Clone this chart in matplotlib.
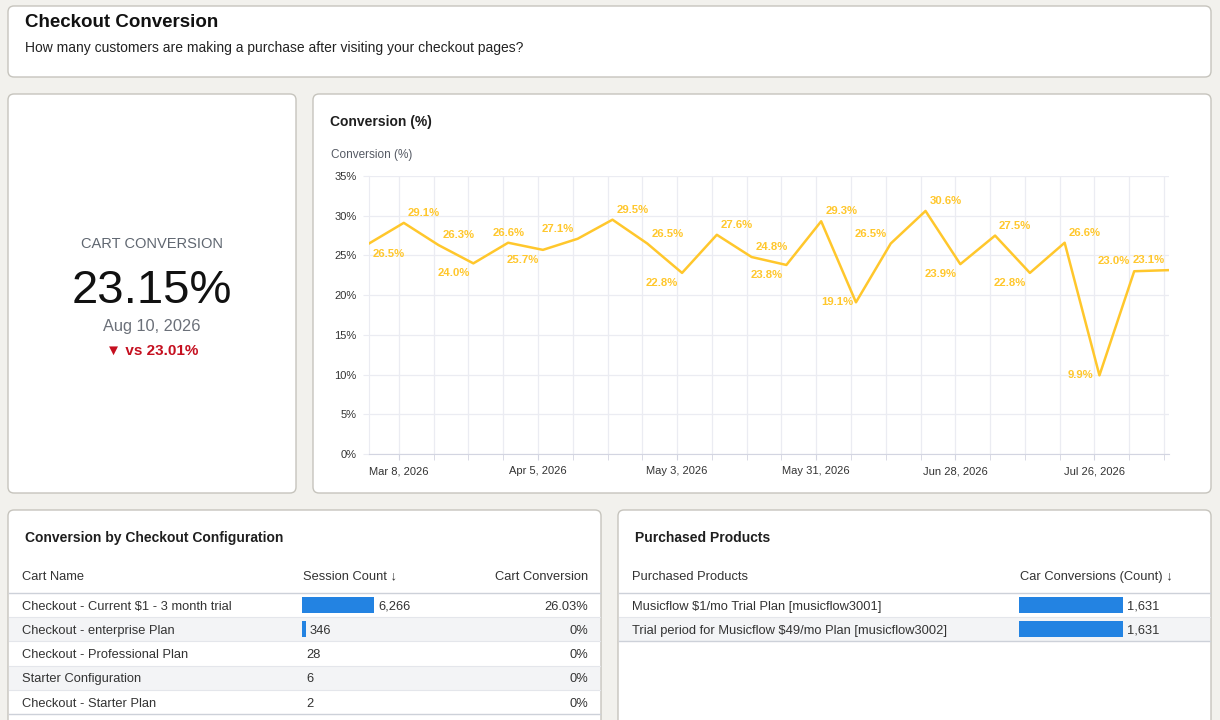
import datetime as dt
import matplotlib
matplotlib.use("Agg")
import matplotlib.pyplot as plt
import matplotlib.dates as mdates
from matplotlib.patches import FancyBboxPatch, Rectangle
from matplotlib.ticker import MultipleLocator, FuncFormatter

plt.rcParams["font.family"] = ["Liberation Sans", "DejaVu Sans"]

# ---- data ----
first_week = dt.date(2026, 3, 2)
conversion = [26.5, 29.1, 26.3, 24.0, 26.6, 25.7, 27.1, 29.5, 26.5, 22.8, 27.6, 24.8,
              23.8, 29.3, 19.1, 26.5, 30.6, 23.9, 27.5, 22.8, 26.6, 9.9, 23.01, 23.15]
weeks = [first_week + dt.timedelta(weeks=i) for i in range(len(conversion))]

kpi_title = "CART CONVERSION"
kpi_compare = "\u25bc vs 23.01%"

cart_names = ["Checkout - Current $1 - 3 month trial", "Checkout - enterprise Plan",
              "Checkout - Professional Plan", "Starter Configuration",
              "Checkout - Starter Plan"]
session_counts = [6266, 346, 28, 6, 2]
cart_conversion = [26.03, 0, 0, 0, 0]

products = ["Musicflow $1/mo Trial Plan [musicflow3001]",
            "Trial period for Musicflow $49/mo Plan [musicflow3002]"]
product_conversions = [1631, 1631]

# label placement (style only): horizontal side, vertical side
lab_h = [1, 1, 1, -1, 0, -1, -1, 1, 1, -1, 1, 1, -1, 1, -1, -1, 1, -1, 1, -1, 1, -1, -1, -1]
lab_v = [-1, 1, 1, -1, 1, -1, 1, 1, 1, -1, 1, 1, -1, 1, 0, 1, 1, -1, 1, -1, 1, 0, 1, 1]

W, H = 1220, 720
BG = "#f2f1ed"
CARD_EDGE = "#c6c4bd"
YELLOW = "#ffc72c"
BLUE = "#2383e2"
TXT = "#1f1f1f"

fig = plt.figure(figsize=(W / 100, H / 100), dpi=100, facecolor=BG)
bg = fig.add_axes([0, 0, 1, 1], zorder=0)
bg.set_xlim(0, W)
bg.set_ylim(H, 0)
bg.axis("off")


def px_axes(x0, y0, x1, y1):
    a = fig.add_axes([x0 / W, 1 - y1 / H, (x1 - x0) / W, (y1 - y0) / H], zorder=2)
    a.set_facecolor("none")
    return a


def card(x, y, w, h):
    bg.add_patch(FancyBboxPatch((x, y), w, h, boxstyle="round,pad=0,rounding_size=6",
                                fc="white", ec=CARD_EDGE, lw=1))


def txt(x, y, s, size, **kw):
    # y is the visual middle of the capitals; put the baseline below it
    bg.text(x, y + 0.36 * size / 0.72, s, fontsize=size, va="baseline", **kw)


card(8, 6, 1203, 71)
card(8, 94, 288, 399)
card(313, 94, 898, 399)
card(8, 510, 593, 240)
card(618, 510, 593, 240)

# header
txt(25, 20, "Checkout Conversion", 13.5, fontweight="bold", color="#111")
txt(25, 47, "How many customers are making a purchase after visiting your checkout pages?",
    10, color="#222")

# KPI card
txt(152, 243, kpi_title, 10.5, color="#5f6670", ha="center")
txt(152, 286, f"{conversion[-1]:.2f}%", 34, color="#111", ha="center")
txt(152, 325, f"{weeks[-1]:%b} {weeks[-1].day}, {weeks[-1].year}", 11.8,
    color="#6b7079", ha="center")
txt(152, 349, kpi_compare, 11, fontweight="bold", color="#c50f1f", ha="center")

# line chart
txt(330, 121, "Conversion (%)", 10, fontweight="bold", color=TXT)
txt(331, 154, "Conversion (%)", 8.5, color="#555a64")

ax = px_axes(369, 176, 1169, 454)
ax.plot(weeks, conversion, color=YELLOW, lw=1.8, zorder=3)
ax.set_xlim(weeks[0], weeks[-1])
ax.set_ylim(0, 35)
ax.yaxis.set_major_locator(MultipleLocator(5))
ax.yaxis.set_major_formatter(FuncFormatter(lambda v, p: f"{v:.0f}%"))

sundays = [dt.date(2026, 3, 8) + dt.timedelta(weeks=k) for k in range(23)]
major = sundays[::4]
ax.set_xticks([mdates.date2num(d) for d in major])
ax.set_xticklabels([f"{d:%b} {d.day}, {d.year}" for d in major])
ax.set_xticks([mdates.date2num(d) for d in sundays], minor=True)

grid_c = "#ebecf2"
ax.grid(axis="x", which="both", color=grid_c, lw=0.9, zorder=0)
ax.grid(axis="y", which="major", color=grid_c, lw=0.9, zorder=0)
ax.set_axisbelow(True)
for s in ("top", "right"):
    ax.spines[s].set_visible(False)
ax.spines["left"].set_color(grid_c)
ax.spines["bottom"].set_color("#d3d5e1")
ax.tick_params(axis="x", which="both", length=4, color="#d3d5e1", labelsize=8,
               labelcolor="#333", pad=5)
ax.tick_params(axis="y", length=4, color=grid_c, labelsize=8, labelcolor="#333", pad=5)

for i, v in enumerate(conversion):
    dx = lab_h[i] * (19 if lab_v[i] == 0 else 20)
    dy = lab_v[i] * 10
    ax.annotate(f"{v:.1f}%", (mdates.date2num(weeks[i]), v), xytext=(dx, dy),
                textcoords="offset pixels", ha="center", va="center", fontsize=8.2,
                fontweight="bold", color=YELLOW, annotation_clip=False, zorder=4)

# tables
ROW_TOP = 593
ROW_H = 24.2
CELL = 9.3


def table_frame(x0, x1, nrows):
    for i in range(nrows):
        top = ROW_TOP + i * ROW_H
        if i % 2 == 1:
            bg.add_patch(Rectangle((x0, top), x1 - x0, ROW_H, fc="#f3f4f6", ec="none"))
        if i < nrows - 1:
            bg.plot([x0, x1], [top + ROW_H] * 2, color="#e4e6eb", lw=0.8)
    bg.plot([x0, x1], [ROW_TOP, ROW_TOP], color="#cdd1d9", lw=1)
    bg.plot([x0, x1], [ROW_TOP + nrows * ROW_H] * 2, color="#cdd1d9", lw=1)


# left table
txt(25, 537, "Conversion by Checkout Configuration", 10, fontweight="bold", color=TXT)
txt(22, 575, "Cart Name", CELL, color="#333")
txt(303, 575, "Session Count \u2193", CELL, color="#333")
txt(588, 575, "Cart Conversion", CELL, color="#333", ha="right")
table_frame(9, 600, len(cart_names))
for i, name in enumerate(cart_names):
    yc = ROW_TOP + (i + 0.5) * ROW_H
    txt(22, yc, name, CELL, color="#333")
    c = cart_conversion[i]
    txt(588, yc, f"{c:.2f}%" if c else "0%", CELL, color="#333", ha="right")

tb1 = px_axes(302, ROW_TOP, 374, ROW_TOP + len(cart_names) * ROW_H)
tb1.barh(range(len(session_counts)), session_counts, height=0.66, color=BLUE)
tb1.set_xlim(0, max(session_counts))
tb1.set_ylim(len(session_counts) - 0.5, -0.5)
tb1.axis("off")
for i, v in enumerate(session_counts):
    tb1.annotate(f"{v:,}", (v, i), xytext=(4, -0.36 * CELL / 0.72), textcoords="offset pixels",
                 ha="left", va="baseline", fontsize=CELL, color="#333", annotation_clip=False)

# right table
txt(635, 537, "Purchased Products", 10, fontweight="bold", color=TXT)
txt(632, 575, "Purchased Products", CELL, color="#333")
txt(1020, 575, "Car Conversions (Count) \u2193", CELL, color="#333")
table_frame(619, 1210, len(products))
for i, name in enumerate(products):
    yc = ROW_TOP + (i + 0.5) * ROW_H
    txt(632, yc, name, CELL, color="#333")

tb2 = px_axes(1019, ROW_TOP, 1123, ROW_TOP + len(products) * ROW_H)
tb2.barh(range(len(product_conversions)), product_conversions, height=0.66, color=BLUE)
tb2.set_xlim(0, max(product_conversions))
tb2.set_ylim(len(product_conversions) - 0.5, -0.5)
tb2.axis("off")
for i, v in enumerate(product_conversions):
    tb2.annotate(f"{v:,}", (v, i), xytext=(4, -0.36 * CELL / 0.72), textcoords="offset pixels",
                 ha="left", va="baseline", fontsize=CELL, color="#333", annotation_clip=False)

fig.savefig("out.png", dpi=100, facecolor=BG)
